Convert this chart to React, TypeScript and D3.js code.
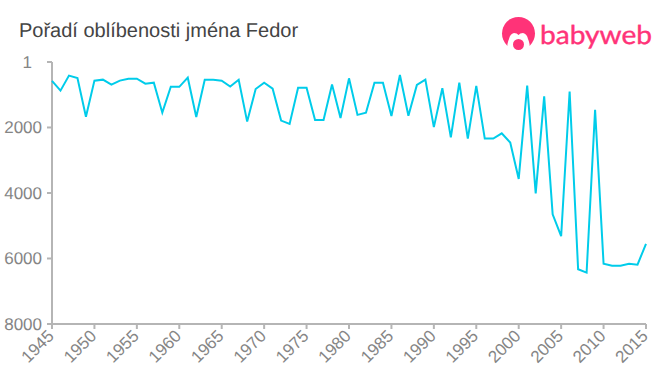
import React from "react";
import * as d3 from "d3";

const firstYear = 1945;
const ranks = [580,875,417,488,1670,570,540,692,570,510,510,662,632,1548,754,760,480,1680,540,545,570,750,545,1820,825,635,815,1790,1890,785,785,1770,1775,690,1710,500,1615,1550,635,635,1650,400,1640,700,540,1990,800,2300,630,2340,730,2340,2340,2180,2460,3570,720,4010,1050,4650,5320,900,6330,6430,1460,6160,6220,6220,6160,6190,5550];
const yTicks = [1,2000,4000,6000,8000];
const xTicks = d3.range(1945, 2016, 5);
const years = ranks.map((_, i) => firstYear + i);
const title = "Pořadí oblíbenosti jména Fedor";
const brand = "babyweb";

const W = 660, H = 375;
const x = d3.scaleLinear().domain([1945, 2015]).range([52, 646]);
const y = d3.scaleLinear().domain([1, 8000]).range([62, 324]);
const line = d3.line<number>().x((_, i) => x(years[i])).y(d => y(d));
const font = "Liberation Sans, Arial, sans-serif";
const axisC = "#b5b5b5", textC = "#858585", lineC = "#00ccea", pink = "#ff3378";

export default function App() {
  return (
    <svg width={W} height={H} style={{ position: "absolute", left: 0, top: 0 }} fontFamily={font} textRendering="geometricPrecision">
      <text x={19} y={37} fontSize={20} fill="#444">{title}</text>
      <g>
        <circle cx={518.5} cy={33.5} r={16.5} fill={pink} />
        <path d="M507 51 Q507 43 509 39 Q510 34 514 33 Q517 33 518.5 35 Q520 33 523 33 Q527 34 528 39 Q530 43 530 51Z" fill="#fff" />
        <circle cx={518.5} cy={44.5} r={5.5} fill={pink} />
        <text x={540} y={43.5} fontSize={26} fontWeight={400} fill={pink} stroke={pink} strokeWidth={0.4} fontFamily="Lato, sans-serif" textLength={112} lengthAdjust="spacingAndGlyphs">{brand}</text>
      </g>
      <g stroke={axisC} strokeWidth={2} fill="none">
        <path d={`M${x(1945)} ${y(1)}V${y(8000)}H${x(2015)}`} />
        {yTicks.map(t => <line key={t} x1={47} x2={x(1945)} y1={y(t)} y2={y(t)} />)}
        {xTicks.map(t => <line key={t} x1={x(t)} x2={x(t)} y1={y(8000)} y2={y(8000) + 5} />)}
      </g>
      {yTicks.map(t => (
        <text key={t} x={t === 1 ? 32 : 42} y={y(t) + 6} textAnchor="end" fontSize={17} fill={textC}>{t}</text>
      ))}
      {xTicks.map(t => (
        <text key={t} transform={`translate(${x(t) + 3},${y(8000) + 13}) rotate(-45)`} textAnchor="end" fontSize={17} fill={textC}>{t}</text>
      ))}
      <path d={line(ranks) ?? ""} fill="none" stroke={lineC} strokeWidth={2} strokeLinejoin="miter" />
    </svg>
  );
}
